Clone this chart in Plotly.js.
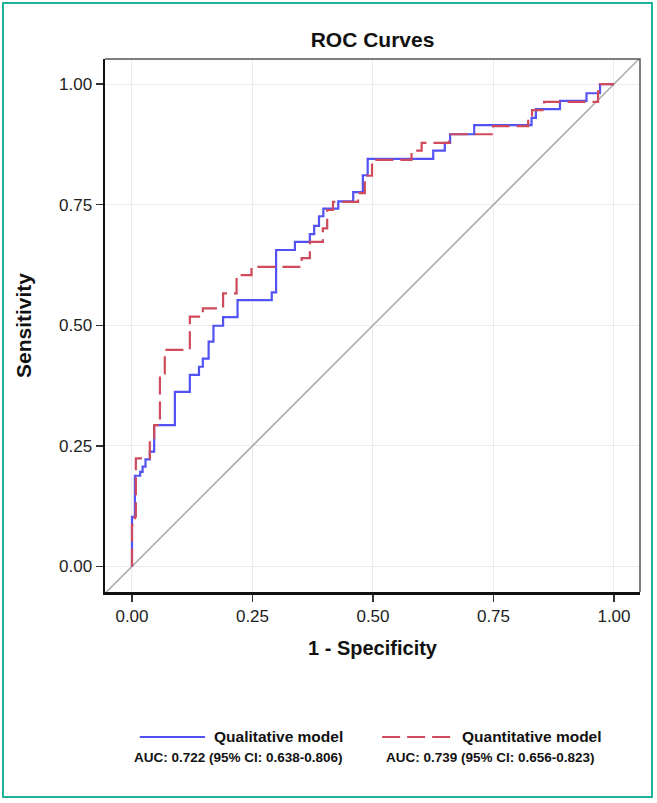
<!DOCTYPE html>
<html>
<head>
<meta charset="utf-8">
<script src="https://cdn.plot.ly/plotly-3.0.1.min.js"></script>
<style>
  html, body { margin: 0; padding: 0; background: #ffffff; }
  #chart { position: absolute; left: 0; top: 0; width: 657px; height: 803px; }
  #frame { position: absolute; left: 2px; top: 2px; width: 651px; height: 796px;
           box-sizing: border-box; border: 2.5px solid #1db39b; pointer-events: none; }
</style>
</head>
<body>
<div id="chart"></div>
<div id="frame"></div>
<script>
// ---- Data ----
const qualFPR = [0, 0, 0.006, 0.017, 0.022, 0.028, 0.037, 0.046, 0.089, 0.120, 0.139, 0.147, 0.159, 0.169, 0.189, 0.219, 0.290, 0.299, 0.338, 0.369, 0.378, 0.388, 0.397, 0.428, 0.459, 0.479, 0.489, 0.625, 0.649, 0.660, 0.710, 0.829, 0.838, 0.888, 0.943, 0.971, 1.0];
const qualTPR = [0, 0.103, 0.188, 0.196, 0.207, 0.222, 0.238, 0.293, 0.362, 0.397, 0.414, 0.431, 0.466, 0.499, 0.517, 0.552, 0.568, 0.656, 0.673, 0.689, 0.706, 0.726, 0.742, 0.757, 0.776, 0.811, 0.845, 0.862, 0.878, 0.896, 0.915, 0.930, 0.948, 0.965, 0.981, 1.0, 1.0];

const quantFPR = [0, 0, 0.006, 0.008, 0.037, 0.046, 0.058, 0.068, 0.120, 0.147, 0.189, 0.217, 0.248, 0.352, 0.369, 0.396, 0.405, 0.417, 0.469, 0.483, 0.498, 0.580, 0.601, 0.658, 0.749, 0.822, 0.830, 0.855, 0.967, 0.971, 1.0];
const quantTPR = [0, 0.086, 0.103, 0.224, 0.266, 0.293, 0.400, 0.449, 0.518, 0.535, 0.566, 0.604, 0.621, 0.639, 0.673, 0.701, 0.739, 0.756, 0.774, 0.810, 0.843, 0.862, 0.878, 0.896, 0.913, 0.930, 0.946, 0.963, 0.985, 1.0, 1.0];

const refLine = [-0.1, 1.1];
const tickVals = [0, 0.25, 0.5, 0.75, 1];
const tickLabels = ['0.00', '0.25', '0.50', '0.75', '1.00'];

const seriesNames = ['Qualitative model', 'Quantitative model'];
const aucLabels = ['AUC: 0.722 (95% CI: 0.638-0.806)', 'AUC: 0.739 (95% CI: 0.656-0.823)'];

const blue = '#5252f5';
const red = '#cf4a5a';
const FONT = '"Liberation Sans", Arial, sans-serif';

const traces = [
  { x: refLine, y: refLine, mode: 'lines', line: { color: '#a8a8a8', width: 1.5 }, hoverinfo: 'skip', showlegend: false },
  { x: qualFPR, y: qualTPR, mode: 'lines', name: seriesNames[0],
    line: { color: blue, width: 2.2, shape: 'hv' }, showlegend: false },
  { x: quantFPR, y: quantTPR, mode: 'lines', name: seriesNames[1],
    line: { color: red, width: 2.2, shape: 'hv', dash: '18px,7px' }, showlegend: false }
];

const legY = -0.272, aucY = -0.311;
const layout = {
  width: 657, height: 803,
  margin: { l: 105, r: 17, t: 59, b: 211 },
  paper_bgcolor: '#ffffff', plot_bgcolor: '#ffffff',
  title: { text: '<b>ROC Curves</b>', xref: 'paper', x: 0.5, xanchor: 'center', y: 1 - 40/803, yanchor: 'middle',
           font: { family: FONT, size: 21, color: '#111' } },
  xaxis: {
    range: [-0.056, 1.054], tickvals: tickVals, ticktext: tickLabels,
    ticks: 'outside', ticklen: 7, tickwidth: 1.5, tickcolor: '#333',
    showline: true, linecolor: '#111', linewidth: 2.5,
    showgrid: true, gridcolor: '#ececec', gridwidth: 1, zeroline: false,
    tickfont: { family: FONT, size: 17, color: '#222' },
    title: { text: '<b>1 - Specificity</b>', font: { family: FONT, size: 20, color: '#111' }, standoff: 16 }
  },
  yaxis: {
    range: [-0.053, 1.052], tickvals: tickVals, ticktext: tickLabels,
    ticks: 'outside', ticklen: 7, tickwidth: 1.5, tickcolor: '#333',
    showline: true, linecolor: '#111', linewidth: 2.5,
    showgrid: true, gridcolor: '#ececec', gridwidth: 1, zeroline: false,
    tickfont: { family: FONT, size: 17, color: '#222' },
    title: { text: '<b>Sensitivity</b>', font: { family: FONT, size: 21, color: '#111' }, standoff: 22 }
  },
  showlegend: false,
  shapes: [
    { type: 'path', xref: 'paper', yref: 'paper', path: 'M 0 1 L 1 1 L 1 0', line: { color: '#555', width: 1.5 } },
    { type: 'line', xref: 'paper', yref: 'paper', x0: 0.065, x1: 0.187, y0: legY, y1: legY, line: { color: blue, width: 2 } },
    { type: 'line', xref: 'paper', yref: 'paper', x0: 0.518, x1: 0.649, y0: legY, y1: legY, line: { color: red, width: 2, dash: '18px,7px' } }
  ],
  annotations: [
    { xref: 'paper', yref: 'paper', x: 0.200, y: legY, xanchor: 'left', yanchor: 'middle', showarrow: false,
      text: '<b>' + seriesNames[0] + '</b>', font: { family: FONT, size: 15.5, color: '#111' } },
    { xref: 'paper', yref: 'paper', x: 0.664, y: legY, xanchor: 'left', yanchor: 'middle', showarrow: false,
      text: '<b>' + seriesNames[1] + '</b>', font: { family: FONT, size: 15.5, color: '#111' } },
    { xref: 'paper', yref: 'paper', x: 0.250, y: aucY, xanchor: 'center', yanchor: 'middle', showarrow: false,
      text: '<b>' + aucLabels[0] + '</b>', font: { family: FONT, size: 13.5, color: '#111' } },
    { xref: 'paper', yref: 'paper', x: 0.720, y: aucY, xanchor: 'center', yanchor: 'middle', showarrow: false,
      text: '<b>' + aucLabels[1] + '</b>', font: { family: FONT, size: 13.5, color: '#111' } }
  ]
};

Plotly.newPlot('chart', traces, layout, { displayModeBar: false, staticPlot: true });
</script>
</body>
</html>
